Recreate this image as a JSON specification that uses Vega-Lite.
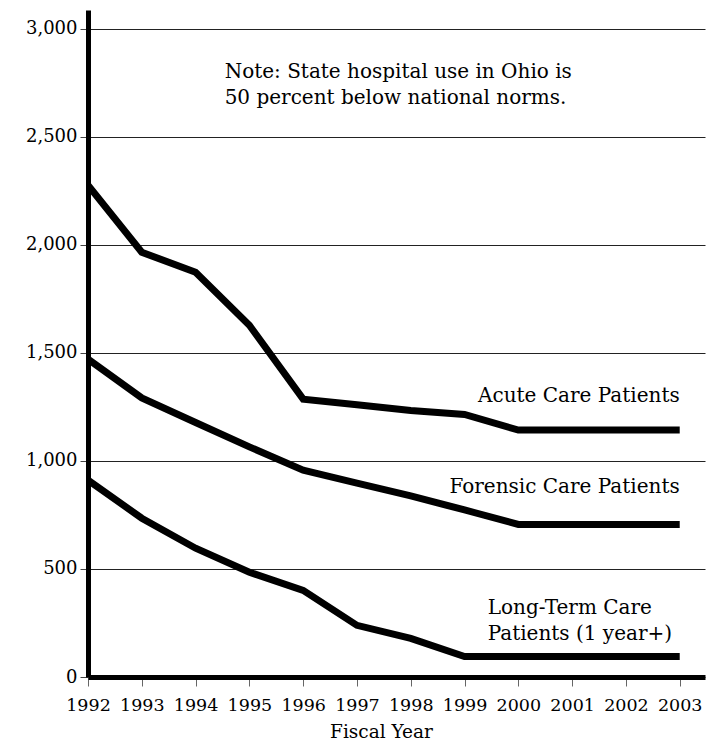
{
  "$schema": "https://vega.github.io/schema/vega-lite/v6.json",
  "width": 617,
  "height": 667,
  "autosize": "none",
  "padding": {"left": 88, "top": 10, "right": 14, "bottom": 69},
  "background": "white",
  "config": {
    "view": {"stroke": null},
    "font": "DejaVu Serif"
  },
  "layer": [
    {
      "data": {"values": [
        {"series": "Acute", "year": 1992, "value": 2276},
        {"series": "Acute", "year": 1993, "value": 1966},
        {"series": "Acute", "year": 1994, "value": 1873},
        {"series": "Acute", "year": 1995, "value": 1628},
        {"series": "Acute", "year": 1996, "value": 1286},
        {"series": "Acute", "year": 1997, "value": 1260},
        {"series": "Acute", "year": 1998, "value": 1233},
        {"series": "Acute", "year": 1999, "value": 1215},
        {"series": "Acute", "year": 2000, "value": 1143},
        {"series": "Acute", "year": 2001, "value": 1143},
        {"series": "Acute", "year": 2002, "value": 1143},
        {"series": "Acute", "year": 2003, "value": 1143},
        {"series": "Forensic", "year": 1992, "value": 1471},
        {"series": "Forensic", "year": 1993, "value": 1292},
        {"series": "Forensic", "year": 1994, "value": 1178},
        {"series": "Forensic", "year": 1995, "value": 1065},
        {"series": "Forensic", "year": 1996, "value": 957},
        {"series": "Forensic", "year": 1997, "value": 897},
        {"series": "Forensic", "year": 1998, "value": 838},
        {"series": "Forensic", "year": 1999, "value": 773},
        {"series": "Forensic", "year": 2000, "value": 706},
        {"series": "Forensic", "year": 2001, "value": 706},
        {"series": "Forensic", "year": 2002, "value": 706},
        {"series": "Forensic", "year": 2003, "value": 706},
        {"series": "LongTerm", "year": 1992, "value": 911},
        {"series": "LongTerm", "year": 1993, "value": 735},
        {"series": "LongTerm", "year": 1994, "value": 596},
        {"series": "LongTerm", "year": 1995, "value": 485},
        {"series": "LongTerm", "year": 1996, "value": 401},
        {"series": "LongTerm", "year": 1997, "value": 239},
        {"series": "LongTerm", "year": 1998, "value": 179},
        {"series": "LongTerm", "year": 1999, "value": 95},
        {"series": "LongTerm", "year": 2000, "value": 95},
        {"series": "LongTerm", "year": 2001, "value": 95},
        {"series": "LongTerm", "year": 2002, "value": 95},
        {"series": "LongTerm", "year": 2003, "value": 95}
      ]},
      "mark": {"type": "line", "color": "black", "strokeWidth": 7, "strokeJoin": "miter", "strokeCap": "butt", "clip": true},
      "encoding": {
        "x": {
          "field": "year", "type": "quantitative",
          "scale": {"domain": [1992, 2003.47], "nice": false, "zero": false},
          "axis": {
            "values": [1992, 1993, 1994, 1995, 1996, 1997, 1998, 1999, 2000, 2001, 2002, 2003],
            "format": "d",
            "title": "Fiscal Year",
            "titleFont": "DejaVu Serif",
            "titleFontSize": 18.5,
            "titleFontWeight": "normal",
            "titleColor": "black",
            "titleX": 293,
            "titlePadding": 9,
            "labelFont": "DejaVu Serif",
            "labelFontSize": 17.5,
            "labelColor": "black",
            "labelPadding": 10,
            "labelFlush": false,
            "domainColor": "black",
            "domainWidth": 5,
            "tickColor": "#666",
            "tickWidth": 1,
            "tickSize": 9,
            "grid": false
          }
        },
        "y": {
          "field": "value", "type": "quantitative",
          "scale": {"domain": [0, 3087], "nice": false},
          "axis": {
            "values": [0, 500, 1000, 1500, 2000, 2500, 3000],
            "format": ",d",
            "title": null,
            "labelFont": "DejaVu Serif",
            "labelFontSize": 18,
            "labelColor": "black",
            "labelPadding": 3,
            "labelFlush": false,
            "domainColor": "black",
            "domainWidth": 5,
            "tickColor": "#444",
            "tickWidth": 1,
            "tickSize": 8,
            "grid": true,
            "gridColor": "#222",
            "gridWidth": 1
          }
        },
        "detail": {"field": "series"}
      }
    },
    {
      "data": {"values": [
        {"label": "Acute Care Patients", "year": 2003, "value": 1300},
        {"label": "Forensic Care Patients", "year": 2003, "value": 878}
      ]},
      "mark": {"type": "text", "align": "right", "baseline": "middle", "font": "DejaVu Serif", "fontSize": 20, "color": "black"},
      "encoding": {
        "x": {"field": "year", "type": "quantitative"},
        "y": {"field": "value", "type": "quantitative"},
        "text": {"field": "label"}
      }
    },
    {
      "data": {"values": [
        {"label": ["Long-Term Care", "Patients (1 year+)"], "year": 1999.43, "value": 320},
        {"label": ["Note: State hospital use in Ohio is", "50 percent below national norms."], "year": 1994.54, "value": 2800}
      ]},
      "mark": {"type": "text", "align": "left", "baseline": "middle", "font": "DejaVu Serif", "fontSize": 20, "lineHeight": 26, "color": "black"},
      "encoding": {
        "x": {"field": "year", "type": "quantitative"},
        "y": {"field": "value", "type": "quantitative"},
        "text": {"field": "label"}
      }
    }
  ]
}
